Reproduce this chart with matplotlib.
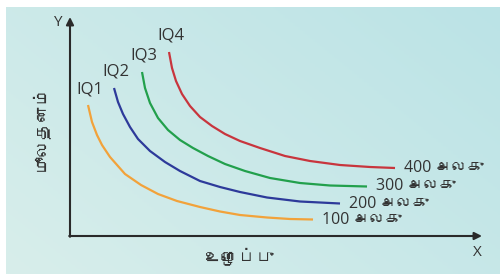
import matplotlib.pyplot as plt
import numpy as np
from matplotlib import font_manager
from matplotlib.colors import LinearSegmentedColormap
from fontTools.ttLib import TTFont

# iso-quant curves (labour, capital)
iq1_x = [18, 22, 27, 32, 40, 55, 71, 88, 107, 130, 150, 170, 197, 220, 243]
iq1_y = [131, 114, 101, 91, 79, 62, 51, 42, 35, 29, 24.5, 21, 18.5, 17, 16.5]
iq2_x = [44, 48, 53, 60, 68, 80, 95, 110, 130, 150, 170, 197, 230, 270]
iq2_y = [148, 134, 122, 109, 97, 85, 74, 65, 55, 49, 44, 38.5, 34.5, 32.5]
iq3_x = [72, 75, 80, 88, 98, 110, 123, 138, 155, 175, 200, 230, 260, 297]
iq3_y = [164, 148, 133, 118, 106, 96, 88, 80, 72, 65, 58, 53, 50.5, 49.5]
iq4_x = [99, 102, 106, 112, 120, 130, 142, 155, 170, 190, 215, 240, 270,
         300, 325]
iq4_y = [184, 168, 155, 142, 130, 119, 110, 102, 95, 88, 80, 75, 71, 69, 68]

names = ['IQ1', 'IQ2', 'IQ3', 'IQ4']
units = ['100 அலகு', '200 அலகு', '300 அலகு', '400 அலகு']
colors = ['#f2a23a', '#2d3a9a', '#22a04c', '#c8353d']

# look for a font that has tamil letters
tamil = None
for f in font_manager.fontManager.ttflist:
    try:
        tt = TTFont(f.fname, fontNumber=0, lazy=True)
        if 0x0BAE in tt.getBestCmap():
            tamil = f.name
            break
    except Exception:
        pass
fam = ['Open Sans', 'DejaVu Sans']
if tamil:
    fam = ['Open Sans', tamil, 'DejaVu Sans']

fig = plt.figure(figsize=(5, 2.74), dpi=100)
ax = fig.add_axes([0, 0, 1, 1])
ax.set_xlim(-70, 430)
ax.set_ylim(-38, 236)
ax.axis('off')

# background
g = np.linspace(0, 1, 200)
xx, yy = np.meshgrid(g, g)
cmap = LinearSegmentedColormap.from_list('bg', ['#d8eeeb', '#bbe3e6'])
ax.imshow((xx * 0.6 + yy * 0.4), cmap=cmap, origin='lower',
          extent=(-64, 430, -38, 229), aspect='auto', zorder=0)

xs = [iq1_x, iq2_x, iq3_x, iq4_x]
ys = [iq1_y, iq2_y, iq3_y, iq4_y]
for i in range(4):
    ax.plot(xs[i], ys[i], color=colors[i], lw=1.6, zorder=3,
            solid_capstyle='butt', solid_joinstyle='round')
    ax.text(xs[i][0] + 2, ys[i][0] + 16, names[i], fontsize=12,
            ha='center', va='center', color='#333333', family=fam)
    ax.text(xs[i][-1] + 9, ys[i][-1], units[i], fontsize=11.5,
            ha='left', va='center', color='#333333', family=fam)

# axes with arrows
ax.annotate('', xy=(412, 0), xytext=(-0.8, 0),
            arrowprops=dict(arrowstyle='-|>', lw=1.5, color='#2a2a2a',
                            mutation_scale=11, shrinkA=0, shrinkB=0))
ax.annotate('', xy=(0, 219), xytext=(0, -0.8),
            arrowprops=dict(arrowstyle='-|>', lw=1.5, color='#2a2a2a',
                            mutation_scale=11, shrinkA=0, shrinkB=0))
ax.text(-13, 214, 'Y', fontsize=11, ha='center', va='center',
        color='#333333', family=fam)
ax.text(407, -17, 'X', fontsize=11, ha='center', va='center',
        color='#333333', family=fam)
ax.text(170, -22, 'உழைப்பு', fontsize=12.5, ha='center', va='center',
        color='#333333', family=fam)
ax.text(-28, 108, 'மூலதனம்', fontsize=12.5, ha='center', va='center',
        rotation=90, color='#333333', family=fam)

plt.savefig('out.png', dpi=100)
